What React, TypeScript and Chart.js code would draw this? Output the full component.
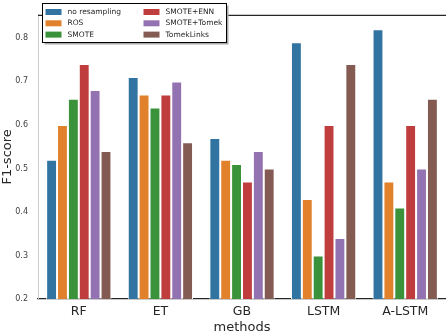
import React, { useEffect, useRef } from "react";
import { Chart, registerables } from "chart.js";

Chart.register(...registerables);

const categories = ["RF", "ET", "GB", "LSTM", "A-LSTM"];
const seriesNames = ["no resampling", "ROS", "SMOTE", "SMOTE+ENN", "SMOTE+Tomek", "TomekLinks"];
const noResampling = [0.52, 0.71, 0.57, 0.79, 0.82];
const ros = [0.60, 0.67, 0.52, 0.43, 0.47];
const smote = [0.66, 0.64, 0.51, 0.30, 0.41];
const smoteEnn = [0.74, 0.67, 0.47, 0.60, 0.60];
const smoteTomek = [0.68, 0.70, 0.54, 0.34, 0.50];
const tomekLinks = [0.54, 0.56, 0.50, 0.74, 0.66];
const yTicks = [0.2, 0.3, 0.4, 0.5, 0.6, 0.7, 0.8];
const colors = ["#3274a1", "#e1812c", "#3a923a", "#c03d3e", "#9372b2", "#845b53"];

const FONT = "'DejaVu Sans', sans-serif";

const legendPlugin = {
  id: "customLegend",
  afterDraw(chart: any) {
    const ctx = chart.ctx;
    const area = chart.chartArea;
    ctx.save();
    // top spine
    ctx.strokeStyle = "#262626";
    ctx.lineWidth = 1.2;
    ctx.beginPath();
    ctx.moveTo(area.left, area.top + 0.5);
    ctx.lineTo(area.right, area.top + 0.5);
    ctx.stroke();

    const bx = area.left + 4.5;
    const by = 3.5;
    const bw = 184;
    const bh = 39;
    // shadow
    ctx.fillStyle = "#aaaaaa";
    ctx.fillRect(bx + 2, by + 2, bw, bh);
    ctx.fillStyle = "#ffffff";
    ctx.fillRect(bx, by, bw, bh);
    ctx.strokeStyle = "#000000";
    ctx.lineWidth = 1;
    ctx.strokeRect(bx, by, bw, bh);

    ctx.font = `7.5px ${FONT}`;
    ctx.textBaseline = "middle";
    ctx.textAlign = "left";
    const ds = chart.data.datasets;
    ds.forEach((d: any, i: number) => {
      const col = Math.floor(i / 3);
      const row = i % 3;
      const x = bx + 3 + col * 98;
      const y = by + 8.5 + row * 11.3;
      ctx.fillStyle = d.backgroundColor;
      ctx.fillRect(x, y - 3, 16, 6);
      ctx.fillStyle = "#262626";
      ctx.fillText(d.label, x + 22, y);
    });
    ctx.restore();
  },
};

export default function App() {
  const ref = useRef<HTMLCanvasElement>(null);
  useEffect(() => {
    if (!ref.current) return;
    const allSeries = [noResampling, ros, smote, smoteEnn, smoteTomek, tomekLinks];
    const chart = new Chart(ref.current, {
      type: "bar",
      data: {
        labels: categories,
        datasets: allSeries.map((vals, i) => ({
          label: seriesNames[i],
          data: vals,
          backgroundColor: colors[i],
          borderColor: "#ffffff",
          borderWidth: 1,
          categoryPercentage: 0.8,
          barPercentage: 1.0,
        })),
      },
      options: {
        animation: false,
        responsive: false,
        maintainAspectRatio: false,
        layout: { padding: 0 },
        plugins: {
          legend: { display: false },
          tooltip: { enabled: false },
        },
        scales: {
          x: {
            grid: { display: false, drawTicks: false },
            border: { display: true, color: "#262626", width: 1.2 },
            ticks: {
              color: "#262626",
              font: { family: FONT, size: 12.5 },
              padding: 5,
            },
            title: {
              display: true,
              text: "methods",
              color: "#262626",
              font: { family: FONT, size: 13 },
              padding: { top: 0, bottom: -1 },
            },
            afterFit(scale: any) {
              scale.height = 35;
            },
          },
          y: {
            min: 0.2,
            max: 0.853,
            grid: { display: false, drawTicks: false },
            border: { display: true, color: "#cccccc", width: 1 },
            ticks: {
              color: "#404040",
              font: { family: FONT, size: 8 },
              padding: 10,
              callback: (v: any) => Number(v).toFixed(1),
            },
            afterBuildTicks(scale: any) {
              scale.ticks = yTicks.map((v) => ({ value: v }));
            },
            title: {
              display: true,
              text: "F1-score",
              color: "#262626",
              font: { family: FONT, size: 13 },
              padding: 0,
            },
            afterFit(scale: any) {
              scale.width = 38;
            },
          },
        },
      },
      plugins: [legendPlugin],
    });
    return () => chart.destroy();
  }, []);
  return (
    <div style={{ position: "fixed", left: 0, top: 0, width: 446, height: 334, background: "#fff" }}>
      <canvas ref={ref} width={446} height={334} style={{ display: "block" }} />
    </div>
  );
}
